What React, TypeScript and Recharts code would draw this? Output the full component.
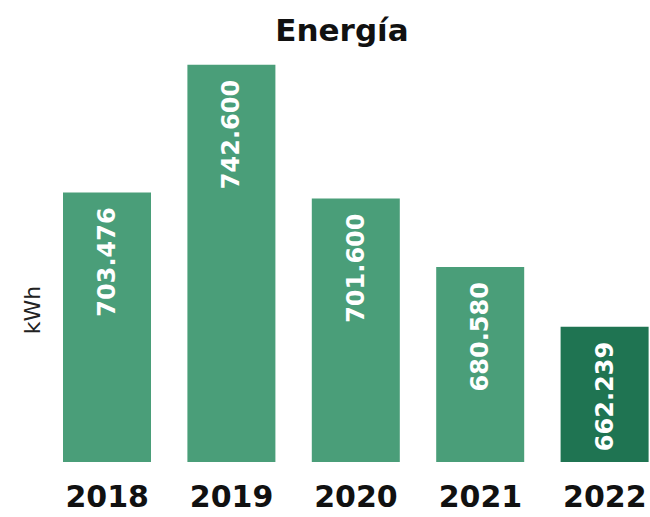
import React from 'react';
import { BarChart, Bar, XAxis, YAxis, Cell, LabelList } from 'recharts';

const years = ['2018', '2019', '2020', '2021', '2022'];
const energyKWh = [703476, 742600, 701600, 680580, 662239];
const barColors = ['#4a9e79', '#4a9e79', '#4a9e79', '#4a9e79', '#1f7452'];

const data = years.map((year, i) => ({ year, value: energyKWh[i] }));

const fmt = (v: number) => v.toString().replace(/\B(?=(\d{3})+(?!\d))/g, '.');

const BarValueLabel = (props: any) => {
  const { x, y, width, value } = props;
  const cx = x + width / 2;
  const cy = y + 15;
  return (
    <text
      x={cx}
      y={cy}
      transform={`rotate(-90, ${cx}, ${cy})`}
      textAnchor="end"
      dominantBaseline="central"
      fill="#ffffff"
      fontFamily="DejaVu Sans"
      fontWeight="bold"
      fontSize={24}
    >
      {fmt(value)}
    </text>
  );
};

const YearTick = (props: any) => {
  const { x, y, payload } = props;
  return (
    <text
      x={x}
      y={y}
      dy={37}
      textAnchor="middle"
      fill="#111111"
      fontFamily="DejaVu Sans"
      fontWeight="bold"
      fontSize={30}
    >
      {payload.value}
    </text>
  );
};

const UnitLabel = (props: any) => {
  const { viewBox } = props;
  const cx = viewBox.x + 32;
  const cy = viewBox.y + 253;
  return (
    <text
      x={cx}
      y={cy}
      transform={`rotate(-90, ${cx}, ${cy})`}
      textAnchor="middle"
      dominantBaseline="central"
      fill="#222"
      fontFamily="DejaVu Sans"
      fontSize={22}
    >
      kWh
    </text>
  );
};

export default function App() {
  return (
    <div style={{ position: 'absolute', left: 0, top: 0, width: 650, height: 517, overflow: 'hidden', background: '#fff' }}>
      <div
        style={{
          position: 'absolute',
          left: 0,
          width: 684,
          top: 12,
          textAlign: 'center',
          fontFamily: 'DejaVu Sans',
          fontWeight: 'bold',
          fontSize: 31,
          color: '#111',
          lineHeight: '36px',
        }}
      >
        Energía
      </div>
      <div style={{ position: 'absolute', left: 0, top: 0 }}>
        <BarChart
          width={667}
          height={517}
          data={data}
          margin={{ top: 57, right: 0, bottom: 0, left: 0 }}
        >
          <YAxis
            width={45}
            domain={[620800, 745000]}
            allowDataOverflow
            tick={false}
            axisLine={false}
            tickLine={false}
            label={<UnitLabel />}
          />
          <XAxis
            dataKey="year"
            height={55}
            axisLine={false}
            tickLine={false}
            interval={0}
            tick={<YearTick />}
          />
          <Bar dataKey="value" barSize={88} isAnimationActive={false}>
            {data.map((d, i) => (
              <Cell key={d.year} fill={barColors[i]} />
            ))}
            <LabelList dataKey="value" content={<BarValueLabel />} />
          </Bar>
        </BarChart>
      </div>
    </div>
  );
}
